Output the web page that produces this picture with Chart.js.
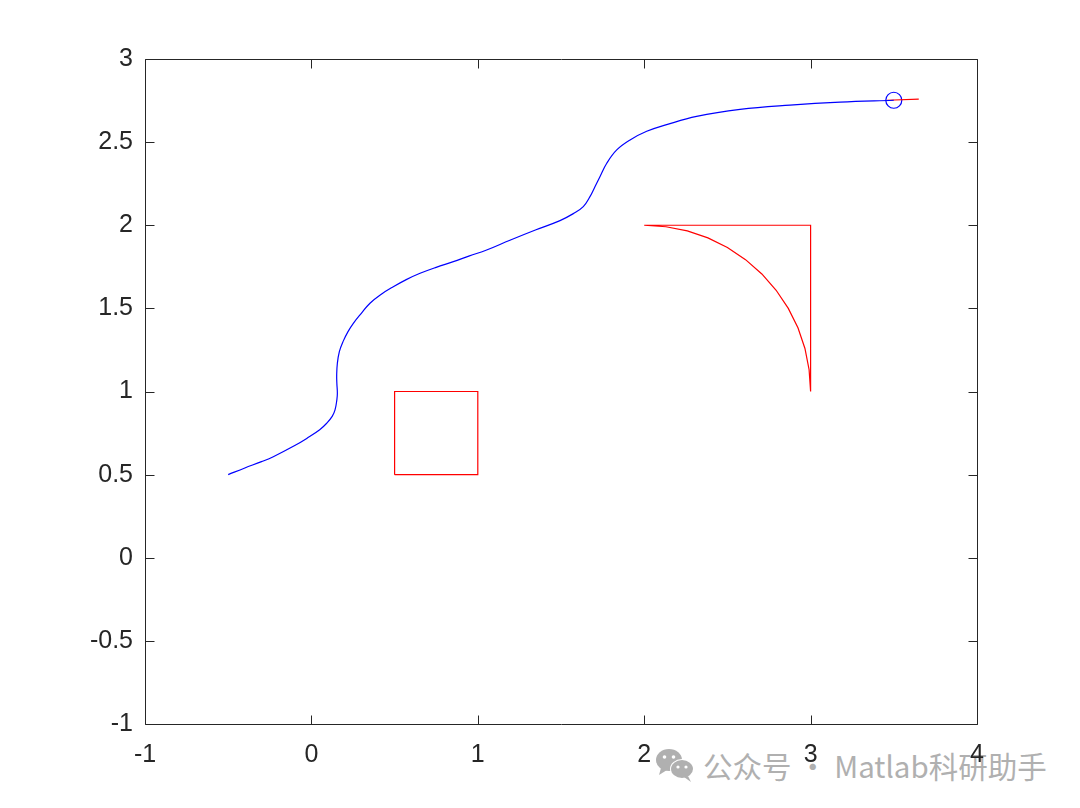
<!DOCTYPE html>
<html>
<head>
<meta charset="utf-8">
<script src="https://cdn.jsdelivr.net/npm/chart.js@4"></script>
<style>
  html, body { margin: 0; padding: 0; background: #fff; }
  #wrap { position: relative; width: 1080px; height: 808px; }
  #c { position: absolute; left: 0; top: 0; z-index: 2; }
  #wm { position: absolute; left: 655px; top: 744px; z-index: 1; display: flex; align-items: center;
        font-family: "Noto Sans CJK SC", "Noto Sans", sans-serif; font-size: 29.5px; color: #b0b0b0; white-space: nowrap; }
  #wm svg { margin-right: 8px; }
</style>
</head>
<body>
<div id="wrap">
  <div id="wm">
    <svg width="40" height="36" viewBox="0 0 40 36">
      <ellipse cx="14" cy="13" rx="13" ry="11" fill="#b0b0b0"/>
      <path d="M6 21 L4 28 L12 23 Z" fill="#b0b0b0"/>
      <circle cx="9.5" cy="10" r="1.8" fill="#fff"/>
      <circle cx="18.5" cy="10" r="1.8" fill="#fff"/>
      <ellipse cx="27" cy="22" rx="12" ry="10" fill="#fff"/>
      <ellipse cx="27" cy="22" rx="11" ry="9" fill="#b0b0b0"/>
      <path d="M33 29 L36 35 L29 30 Z" fill="#b0b0b0"/>
      <circle cx="23" cy="20" r="1.6" fill="#fff"/>
      <circle cx="31" cy="20" r="1.6" fill="#fff"/>
    </svg>
    <span>公众号 · Matlab科研助手</span>
  </div>
  <canvas id="c" width="1080" height="808"></canvas>
</div>
<script>
// ---- data ----
const curveX = [-0.5, -0.4, -0.3, -0.229, -0.1, -0.028, 0.05, 0.092, 0.125, 0.142, 0.153, 0.156, 0.153, 0.152, 0.156, 0.168, 0.19, 0.22, 0.252, 0.3, 0.352, 0.42, 0.492, 0.57, 0.653, 0.75, 0.853, 0.95, 1.053, 1.193, 1.35, 1.494, 1.574, 1.634, 1.674, 1.704, 1.734, 1.775, 1.835, 1.915, 2.015, 2.135, 2.315, 2.576, 2.876, 3.177, 3.5];
const curveY = [0.5, 0.54, 0.578, 0.608, 0.675, 0.718, 0.77, 0.809, 0.85, 0.889, 0.95, 0.99, 1.05, 1.1, 1.17, 1.24, 1.3, 1.36, 1.41, 1.47, 1.531, 1.585, 1.63, 1.673, 1.711, 1.747, 1.781, 1.816, 1.851, 1.91, 1.973, 2.028, 2.07, 2.112, 2.172, 2.232, 2.292, 2.373, 2.453, 2.513, 2.565, 2.605, 2.655, 2.697, 2.723, 2.741, 2.752];
const markerX = [3.5];
const markerY = [2.752];
const tailX = [3.46, 3.65];
const tailY = [2.752, 2.759];
const squareX = [0.5, 1, 1, 0.5, 0.5];
const squareY = [0.5, 0.5, 1, 1, 0.5];
const arcX = [3, 3, 2, 2.131, 2.259, 2.383, 2.5, 2.609, 2.707, 2.793, 2.866, 2.924, 2.966, 2.991, 3];
const arcY = [1, 2, 2, 1.991, 1.966, 1.924, 1.866, 1.793, 1.707, 1.609, 1.5, 1.383, 1.259, 1.131, 1];
const xTicks = [-1, 0, 1, 2, 3, 4];
const yTicks = [-1, -0.5, 0, 0.5, 1, 1.5, 2, 2.5, 3];

const pts = (xs, ys) => xs.map((x, i) => ({ x: x, y: ys[i] }));
const AX = '#262626';

const boxPlugin = {
  id: 'matlabBox',
  afterDraw(chart) {
    const { ctx, chartArea: a, scales } = chart;
    ctx.save();
    ctx.strokeStyle = AX;
    ctx.lineWidth = 1;
    ctx.beginPath();
    const L = Math.round(a.left) + 0.5, R = Math.round(a.right) + 0.5;
    const T = Math.round(a.top) + 0.5, B = Math.round(a.bottom) + 0.5;
    ctx.rect(L, T, R - L, B - T);
    const tl = 9;
    xTicks.forEach(v => {
      const p = Math.round(scales.x.getPixelForValue(v)) + 0.5;
      ctx.moveTo(p, B); ctx.lineTo(p, B - tl);
      ctx.moveTo(p, T); ctx.lineTo(p, T + tl);
    });
    yTicks.forEach(v => {
      const p = Math.round(scales.y.getPixelForValue(v)) + 0.5;
      ctx.moveTo(L, p); ctx.lineTo(L + tl, p);
      ctx.moveTo(R, p); ctx.lineTo(R - tl, p);
    });
    ctx.stroke();
    ctx.restore();
  }
};

const tickFont = { family: '"Liberation Sans", Arial, sans-serif', size: 25 };

new Chart(document.getElementById('c'), {
  type: 'scatter',
  data: {
    datasets: [
      { data: pts(curveX, curveY), showLine: true, borderColor: '#0000ff', borderWidth: 1.2, pointRadius: 0, tension: 0.4, fill: false },
      { data: pts(tailX, tailY), showLine: true, borderColor: '#ff0000', borderWidth: 1.2, pointRadius: 0, fill: false },
      { data: pts(markerX, markerY), showLine: false, pointRadius: 8, pointBorderColor: '#0000ff', pointBackgroundColor: 'rgba(0,0,0,0)', pointBorderWidth: 1.2 },
      { data: pts(squareX, squareY), showLine: true, borderColor: '#ff0000', borderWidth: 1.2, pointRadius: 0, tension: 0, fill: false },
      { data: pts(arcX, arcY), showLine: true, borderColor: '#ff0000', borderWidth: 1.2, pointRadius: 0, tension: 0, fill: false }
    ]
  },
  options: {
    responsive: false,
    animation: false,
    layout: { padding: { left: 0, top: 59, right: 103, bottom: 0 } },
    plugins: { legend: { display: false }, tooltip: { enabled: false } },
    scales: {
      x: {
        type: 'linear', min: -1, max: 4,
        afterFit: s => { s.height = 84; },
        afterBuildTicks: s => { s.ticks = xTicks.map(v => ({ value: v })); },
        grid: { display: false }, border: { display: false },
        ticks: { color: AX, font: tickFont, padding: 8, maxRotation: 0, callback: v => String(v) }
      },
      y: {
        type: 'linear', min: -1, max: 3,
        afterFit: s => { s.width = 145; },
        afterBuildTicks: s => { s.ticks = yTicks.map(v => ({ value: v })); },
        grid: { display: false }, border: { display: false },
        ticks: { color: AX, font: tickFont, padding: 4, callback: v => String(v) }
      }
    }
  },
  plugins: [boxPlugin]
});
</script>
</body>
</html>
